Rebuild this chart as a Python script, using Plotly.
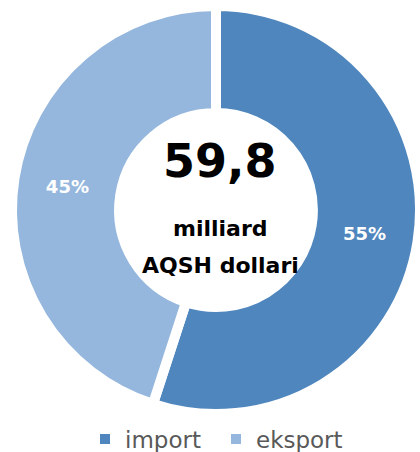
import plotly.graph_objects as go

labels = ["import", "eksport"]
values = [55, 45]
colors = ["#4F86BD", "#95B7DD"]
total_value = "59,8"
unit_lines = ["milliard", "AQSH dollari"]

W, H = 420, 452
cx, cy, R = 216, 210, 204
tx = 220

fig = go.Figure(go.Pie(
    labels=labels,
    values=values,
    sort=False,
    direction="clockwise",
    rotation=0,
    hole=0.475,
    marker=dict(colors=colors, line=dict(color="white", width=10)),
    textinfo="percent",
    texttemplate="<b>%{percent:.0%}</b>",
    textposition="inside",
    insidetextorientation="horizontal",
    textfont=dict(family="DejaVu Sans", size=18, color="white"),
    domain=dict(x=[(cx - R) / W, min(1, (cx + R) / W)],
                y=[1 - (cy + R) / H, 1 - (cy - R) / H]),
    hoverinfo="label+percent",
    showlegend=False,
))

# legend entries with square swatches
for lab, col in zip(labels, colors):
    fig.add_trace(go.Scatter(x=[None], y=[None], mode="markers", name=lab,
                             marker=dict(symbol="square", size=10, color=col),
                             showlegend=True, hoverinfo="skip"))

fig.add_annotation(x=tx / W, y=1 - 161 / H, xref="paper", yref="paper",
                   text="<b>%s</b>" % total_value, showarrow=False,
                   font=dict(family="DejaVu Sans", size=46, color="black"),
                   xanchor="center", yanchor="middle")
fig.add_annotation(x=tx / W, y=1 - 229 / H, xref="paper", yref="paper",
                   text="<b>%s</b>" % unit_lines[0], showarrow=False,
                   font=dict(family="DejaVu Sans", size=22, color="black"),
                   xanchor="center", yanchor="middle")
fig.add_annotation(x=tx / W, y=1 - 265 / H, xref="paper", yref="paper",
                   text="<b>%s</b>" % unit_lines[1], showarrow=False,
                   font=dict(family="DejaVu Sans", size=22, color="black"),
                   xanchor="center", yanchor="middle")

fig.update_layout(
    width=W, height=H,
    margin=dict(l=0, r=0, t=0, b=0, autoexpand=False),
    paper_bgcolor="white",
    plot_bgcolor="white",
    xaxis=dict(visible=False),
    yaxis=dict(visible=False),
    showlegend=True,
    legend=dict(orientation="h", x=85 / W, xanchor="left", y=1 - 439 / H, yanchor="middle",
                font=dict(family="DejaVu Sans", size=23, color="#595959"),
                itemwidth=30, entrywidth=86, traceorder="normal"),
)

fig.write_html("out.html")
